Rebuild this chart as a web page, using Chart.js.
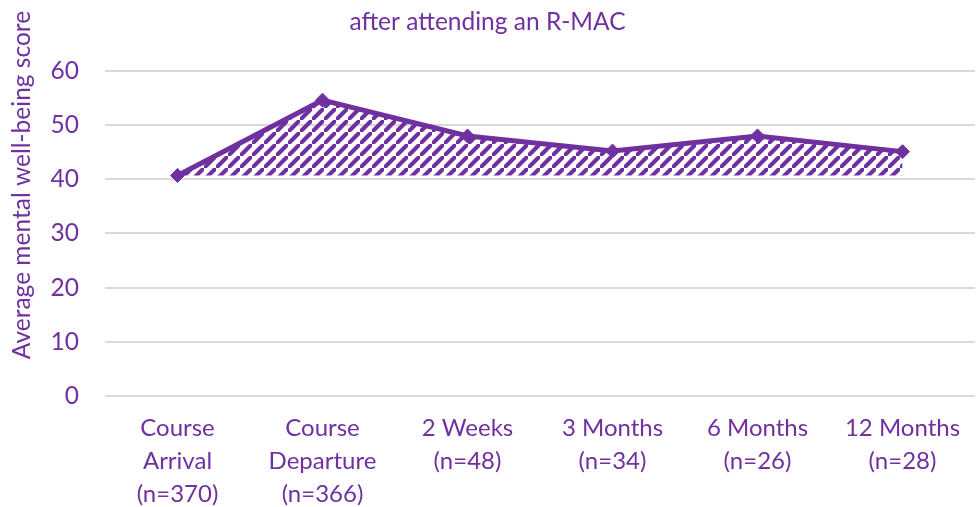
<!DOCTYPE html>
<html lang="en">
<head>
  <meta charset="UTF-8">
  <title>Mental well-being after R-MAC</title>
  <script src="https://cdn.jsdelivr.net/npm/chart.js"></script>
  <style>
    html, body {
      margin: 0;
      padding: 0;
      background: #ffffff;
    }
    #wrap {
      position: relative;
      width: 976px;
      height: 507px;
    }
  </style>
</head>
<body>
  <div id="wrap">
    <canvas id="wellbeingChart" width="976" height="507"></canvas>
  </div>

  <script>
    const categories = [
      ['Course', 'Arrival', '(n=370)'],
      ['Course', 'Departure', '(n=366)'],
      ['2 Weeks', '(n=48)'],
      ['3 Months', '(n=34)'],
      ['6 Months', '(n=26)'],
      ['12 Months', '(n=28)']
    ];
    const scores = [40.7, 54.6, 48.0, 45.2, 48.0, 45.1];
    const yTicks = [0, 10, 20, 30, 40, 50, 60];
    const yTitle = 'Average mental well-being score';

    const purple = '#7030A0';

    // diagonal hatch like the office "wide upward diagonal" fill
    function makeHatch() {
      const size = 12;
      const c = document.createElement('canvas');
      c.width = size;
      c.height = size;
      const g = c.getContext('2d');
      g.strokeStyle = purple;
      g.lineWidth = 4.2;
      g.beginPath();
      g.moveTo(-size, size * 2);
      g.lineTo(size * 2, -size);
      g.moveTo(-size * 2, size);
      g.lineTo(size, -size * 2);
      g.moveTo(0, size * 3);
      g.lineTo(size * 3, 0);
      g.stroke();
      return g.createPattern(c, 'repeat');
    }

    // the axis title sits higher than the plot centre in the original, so draw it by hand
    const axisTitle = {
      id: 'axisTitle',
      afterDraw(chart) {
        const g = chart.ctx;
        g.save();
        g.translate(22, 185);
        g.rotate(-Math.PI / 2);
        g.fillStyle = purple;
        g.font = '24.5px Lato';
        g.textAlign = 'center';
        g.textBaseline = 'middle';
        g.fillText(yTitle, 0, 0);
        g.restore();
      }
    };

    const ctx = document.getElementById('wellbeingChart').getContext('2d');
    new Chart(ctx, {
      type: 'line',
      data: {
        labels: categories,
        datasets: [{
          label: 'Average score',
          data: scores,
          borderColor: purple,
          borderWidth: 5,
          backgroundColor: makeHatch(),
          fill: { value: scores[0] },
          tension: 0,
          pointStyle: 'rectRot',
          pointRadius: 7,
          pointBackgroundColor: purple,
          pointBorderColor: purple,
          pointBorderWidth: 1
        }]
      },
      plugins: [axisTitle],
      options: {
        responsive: false,
        animation: false,
        layout: { autoPadding: false, padding: { left: 0, right: 1, top: 0, bottom: 0 } },
        plugins: {
          legend: { display: false },
          tooltip: { enabled: false },
          title: {
            display: true,
            text: 'after attending an R-MAC',
            color: purple,
            font: { family: 'Lato', size: 24.5, weight: 'normal', lineHeight: 1.2 },
            padding: { top: 7.5, bottom: 34 }
          }
        },
        scales: {
          x: {
            offset: true,
            grid: { display: false, drawTicks: false },
            border: { display: false },
            ticks: {
              color: purple,
              padding: 16,
              maxRotation: 0,
              autoSkip: false,
              font: { family: 'Lato', size: 24, lineHeight: 1.375 }
            },
            afterFit(scale) {
              scale.height = 111;
              scale.paddingLeft = 0;
              scale.paddingRight = 0;
            }
          },
          y: {
            min: 0,
            max: 60,
            afterBuildTicks(scale) {
              scale.ticks = yTicks.map(v => ({ value: v }));
            },
            grid: { color: '#d9d9d9', lineWidth: 2, drawTicks: false },
            border: { display: false },
            ticks: {
              color: purple,
              padding: 26,
              font: { family: 'Lato', size: 24.5 }
            },
            afterFit(scale) { scale.width = 105; }
          }
        }
      }
    });
  </script>
</body>
</html>
